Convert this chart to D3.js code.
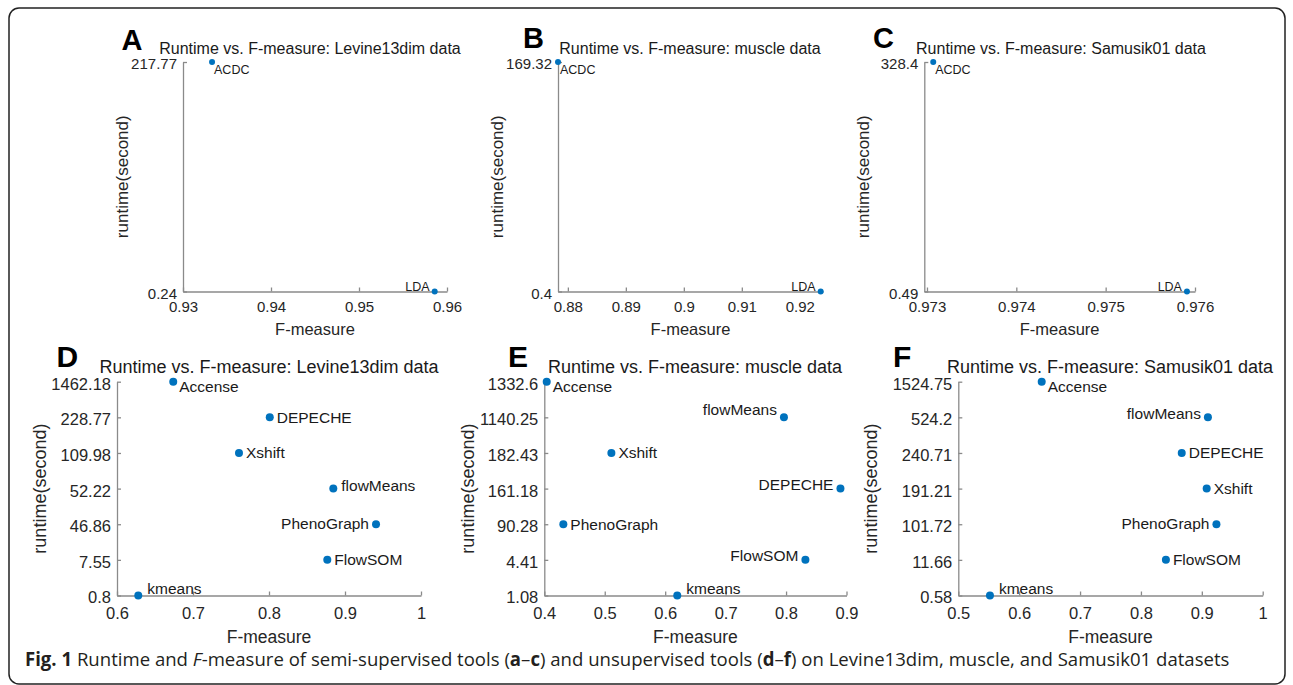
<!DOCTYPE html>
<html>
<head>
<meta charset="utf-8">
<script src="https://cdn.jsdelivr.net/npm/d3@7"></script>
<style>
body { margin: 0; background: #fff; }
svg { display: block; font-family: "Liberation Sans", Arial, Helvetica, sans-serif; }
.axis path, .axis line { stroke: #8a8a8a; stroke-width: 1.3; }
.axis text { fill: #262626; font-family: "Liberation Sans", Arial, sans-serif; }
</style>
</head>
<body>
<svg id="fig" width="1293" height="685"></svg>
<script>
// semi-supervised tools (top row)
var semiTools = ["ACDC", "LDA"];
var semiFLevine = [0.9333, 0.9586],
    semiTimeLevine = [217.77, 0.24];
var semiFMuscle = [0.8783, 0.9236],
    semiTimeMuscle = [169.32, 0.4];
var semiFSamusik = [0.97307, 0.97591],
    semiTimeSamusik = [328.4, 0.49];

// unsupervised tools (bottom row)
var unsupTools = ["Accense", "DEPECHE", "Xshift", "flowMeans", "PhenoGraph", "FlowSOM", "kmeans"];
var unsupFLevine = [0.674, 0.801, 0.7605, 0.8846, 0.9408, 0.8767, 0.628],
    unsupTimeLevine = [1462.18, 228.77, 109.98, 52.22, 46.86, 7.55, 0.8];
var unsupFMuscle = [0.404, 0.890, 0.511, 0.7965, 0.4315, 0.832, 0.620],
    unsupTimeMuscle = [1332.6, 161.18, 182.43, 1140.25, 90.28, 4.41, 1.08];
var unsupFSamusik = [0.637, 0.867, 0.908, 0.910, 0.924, 0.841, 0.552],
    unsupTimeSamusik = [1524.75, 240.71, 191.21, 524.2, 101.72, 11.66, 0.58];

// x axis ticks
var xTicksA = [0.93, 0.94, 0.95, 0.96],
    xTicksB = [0.88, 0.89, 0.9, 0.91, 0.92],
    xTicksC = [0.973, 0.974, 0.975, 0.976],
    xTicksD = [0.6, 0.7, 0.8, 0.9, 1],
    xTicksE = [0.4, 0.5, 0.6, 0.7, 0.8, 0.9],
    xTicksF = [0.5, 0.6, 0.7, 0.8, 0.9, 1];

// where each point label sits (code -> offset, see labelOffsets)
var sideSemi = ["tb", "tl"];
var sideLevine = ["rb", "r", "r", "ru", "l", "r", "ruu"],
    sideMuscle = ["rb", "lu", "r", "luu", "r", "lu", "ruu"],
    sideSamusik = ["rb", "r", "r", "lu", "l", "r", "ruu"];

var labelOffsets = {
    tb: [2, 8, "start"], tl: [-5, -5, "end"],
    r: [7, 0, "start"], rb: [6, 5, "start"], ru: [8, -3, "start"], ruu: [9, -7, "start"],
    l: [-7, -1, "end"], lu: [-7, -4, "end"], luu: [-7, -8, "end"]
};

var rows = [
    { yTop: 62, yBot: 291.5, tick: 15, pad: 10, title: 16, titleY: 54, lab: 12.5, axLab: 17, xlabY: 334.5, r: 3, letter: 29 },
    { yTop: 381.7, yBot: 595.5, tick: 16.5, pad: 12, title: 18, titleY: 373, lab: 15.5, axLab: 18, xlabY: 643, r: 4, letter: 30 }
];

var panels = [
    { letter: "A", lx: 121.5, ly: 50, row: 0, x0: 183, x1: 447, dom: [0.93, 0.96], ticks: xTicksA, tx: 310, ylx: 122,
      name: "Levine13dim", tools: semiTools, f: semiFLevine, t: semiTimeLevine, side: sideSemi },
    { letter: "B", lx: 523, ly: 48, row: 0, x0: 558, x1: 823, dom: [0.8783, 0.924], ticks: xTicksB, tx: 690, ylx: 497,
      name: "muscle", tools: semiTools, f: semiFMuscle, t: semiTimeMuscle, side: sideSemi },
    { letter: "C", lx: 873, ly: 48, row: 0, x0: 924.3, x1: 1195, dom: [0.97297, 0.976], ticks: xTicksC, tx: 1061, ylx: 863,
      name: "Samusik01", tools: semiTools, f: semiFSamusik, t: semiTimeSamusik, side: sideSemi },
    { letter: "D", lx: 56.5, ly: 366.5, row: 1, x0: 117, x1: 421, dom: [0.6, 1], ticks: xTicksD, tx: 269, ylx: 40,
      name: "Levine13dim", tools: unsupTools, f: unsupFLevine, t: unsupTimeLevine, side: sideLevine },
    { letter: "E", lx: 508, ly: 367, row: 1, x0: 544.3, x1: 846.5, dom: [0.4, 0.9], ticks: xTicksE, tx: 695, ylx: 468,
      name: "muscle", tools: unsupTools, f: unsupFMuscle, t: unsupTimeMuscle, side: sideMuscle },
    { letter: "F", lx: 893, ly: 367, row: 1, x0: 958.3, x1: 1262.7, dom: [0.5, 1], ticks: xTicksF, tx: 1110, ylx: 871,
      name: "Samusik01", tools: unsupTools, f: unsupFSamusik, t: unsupTimeSamusik, side: sideSamusik }
];

var svg = d3.select("#fig");

// outer frame
svg.append("rect").attr("x", 9).attr("y", 8).attr("width", 1276).attr("height", 676)
    .attr("rx", 10).attr("fill", "none").attr("stroke", "#222").attr("stroke-width", 1.5);

panels.forEach(function (p) {
    var rw = rows[p.row];
    var g = svg.append("g").attr("class", "panel");

    var x = d3.scaleLinear().domain(p.dom).range([p.x0, p.x1]);
    // runtime is shown by rank: one evenly spaced slot per value
    var yDomain = p.t.slice().sort(d3.ascending);
    var y = d3.scalePoint().domain(yDomain).range([rw.yBot, rw.yTop]).padding(0);

    var xa = g.append("g").attr("class", "axis")
        .attr("transform", "translate(0," + rw.yBot + ")")
        .call(d3.axisBottom(x).tickValues(p.ticks).tickSizeInner(-4).tickSizeOuter(0)
            .tickPadding(rw.pad).tickFormat(function (d) { return String(d); }));
    xa.selectAll("text").attr("font-size", rw.tick);

    var ya = g.append("g").attr("class", "axis")
        .attr("transform", "translate(" + p.x0 + ",0)")
        .call(d3.axisLeft(y).tickSizeInner(-4).tickSizeOuter(0).tickPadding(6)
            .tickFormat(function (d) { return String(d); }));
    ya.selectAll("text").attr("font-size", rw.tick).attr("dy", "0.45em");

    // points
    var pts = p.tools.map(function (name, i) {
        return { name: name, f: p.f[i], t: p.t[i], side: p.side[i] };
    });
    g.selectAll("circle.pt").data(pts).enter().append("circle").attr("class", "pt")
        .attr("cx", function (d) { return x(d.f); })
        .attr("cy", function (d) { return y(d.t); })
        .attr("r", rw.r).attr("fill", "#0072BD");

    g.selectAll("text.lab").data(pts).enter().append("text").attr("class", "lab")
        .attr("x", function (d) { return x(d.f) + labelOffsets[d.side][0]; })
        .attr("y", function (d) { return y(d.t) + labelOffsets[d.side][1]; })
        .attr("dy", "0.35em")
        .attr("text-anchor", function (d) { return labelOffsets[d.side][2]; })
        .attr("font-size", rw.lab).attr("fill", "#1a1a1a")
        .text(function (d) { return d.name; });

    // title, axis labels, panel letter
    g.append("text").attr("x", p.tx).attr("y", rw.titleY).attr("text-anchor", "middle")
        .attr("font-size", rw.title).attr("fill", "#1a1a1a")
        .text("Runtime vs. F-measure: " + p.name + " data");

    g.append("text").attr("x", (p.x0 + p.x1) / 2).attr("y", rw.xlabY).attr("text-anchor", "middle")
        .attr("font-size", rw.axLab - 0.5).attr("fill", "#262626").text("F-measure");

    var yc = (rw.yTop + rw.yBot) / 2;
    g.append("text").attr("transform", "translate(" + p.ylx + "," + yc + ") rotate(-90)")
        .attr("text-anchor", "middle").attr("dy", "0.35em")
        .attr("font-size", rw.axLab).attr("fill", "#262626").text("runtime(second)");

    g.append("text").attr("x", p.lx).attr("y", p.ly)
        .attr("font-size", rw.letter).attr("font-weight", "bold").attr("fill", "#000")
        .text(p.letter);
});

// caption: drawn at natural width, then squeezed horizontally to the reference width
var capG = svg.append("g");
var cap = capG.append("text").attr("x", 0).attr("y", 0)
    .attr("font-family", "'Open Sans', 'Noto Sans', sans-serif").attr("font-size", 19)
    .attr("fill", "#231f20");
var capParts = [
    ["Fig. 1", "bold"], [" Runtime and ", ""], ["F", "italic"],
    ["-measure of semi-supervised tools (", ""], ["a", "bold"], ["\u2013", ""], ["c", "bold"],
    [") and unsupervised tools (", ""], ["d", "bold"], ["\u2013", ""], ["f", "bold"],
    [") on Levine13dim, muscle, and Samusik01 datasets", ""]
];
capParts.forEach(function (c) {
    var ts = cap.append("tspan").text(c[0]);
    if (c[1] == "bold") ts.attr("font-weight", "bold");
    if (c[1] == "italic") ts.attr("font-style", "italic");
});
var capW = cap.node().getComputedTextLength() || 1205;
capG.attr("transform", "translate(25,666) scale(" + (1205 / capW) + ",1)");
</script>
</body>
</html>
